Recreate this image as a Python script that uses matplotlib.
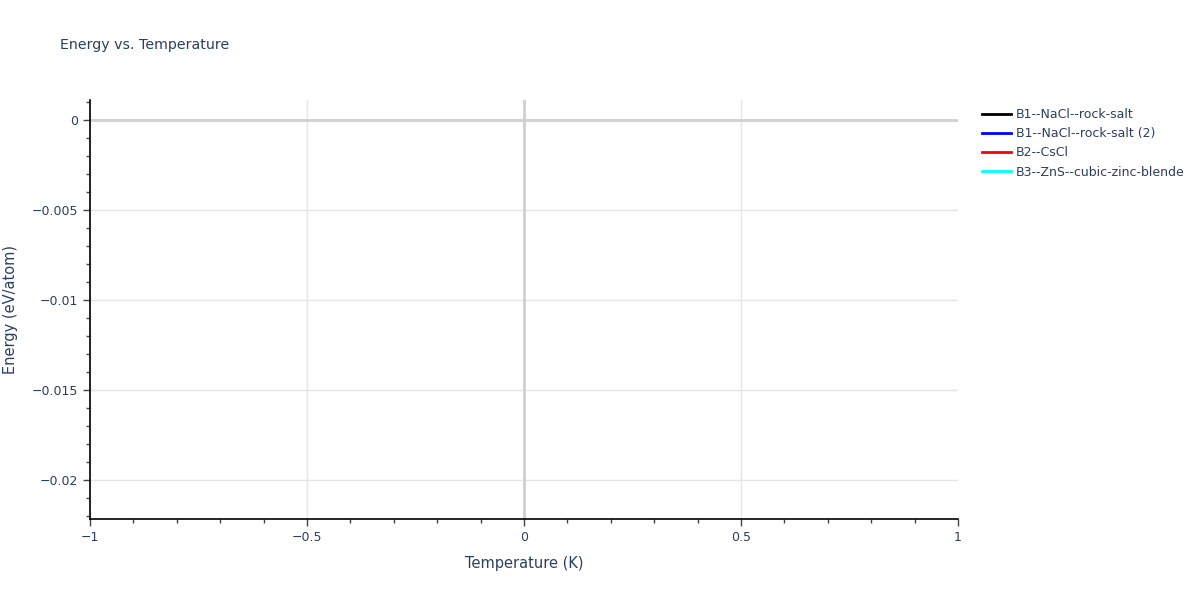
import matplotlib
matplotlib.use("Agg")
import matplotlib.pyplot as plt
from matplotlib.ticker import MultipleLocator
from matplotlib.lines import Line2D

plt.rcParams['font.family'] = ['DejaVu Sans']

# series (no points in this chart)
series_names = ["B1--NaCl--rock-salt", "B1--NaCl--rock-salt (2)", "B2--CsCl",
                "B3--ZnS--cubic-zinc-blende"]
series_colors = ["black", "blue", "red", "cyan"]
series_x = [[], [], [], []]
series_y = [[], [], [], []]

x_range = (-1, 1)
y_range = (-0.02217, 0.00111)
x_ticks = [-1, -0.5, 0, 0.5]
y_ticks = [0, -0.005, -0.01, -0.015, -0.02]

txt = "#2a3f5f"

fig = plt.figure(figsize=(12, 6), dpi=100)
ax = fig.add_axes([90/1200, 1 - 519/600, (958-90)/1200, (519-100)/600])

for xs, ys, c, n in zip(series_x, series_y, series_colors, series_names):
    ax.plot(xs, ys, color=c, lw=2, label=n)

ax.set_xlim(*x_range)
ax.set_ylim(*y_range)
ax.set_xticks(x_ticks + [1])
ax.set_yticks(y_ticks)
ax.set_xticklabels(["\u22121", "\u22120.5", "0", "0.5", "1"])
ax.set_yticklabels(["0", "\u22120.005", "\u22120.01", "\u22120.015", "\u22120.02"])
ax.xaxis.set_minor_locator(MultipleLocator(0.1))
ax.yaxis.set_minor_locator(MultipleLocator(0.001))

ax.grid(False)
for xv in x_ticks:
    ax.axvline(xv, color="#e5e5e5", lw=1, zorder=0.3)
for yv in y_ticks:
    ax.axhline(yv, color="#e5e5e5", lw=1, zorder=0.3)
ax.axhline(0, color="#d0d0d0", lw=2, zorder=0.5)
ax.axvline(0, color="#d0d0d0", lw=2, zorder=0.5)

for s in ["top", "right"]:
    ax.spines[s].set_visible(False)
for s in ["left", "bottom"]:
    ax.spines[s].set_color("black")
    ax.spines[s].set_linewidth(1.2)

ax.tick_params(which='major', direction='out', length=5, width=1, color="#444",
               labelcolor=txt, labelsize=9)
ax.tick_params(which='minor', direction='out', length=3, width=1, color="#444")

ax.set_xlabel("Temperature (K)", color=txt, fontsize=10.5, labelpad=9)
ax.set_ylabel("Energy (eV/atom)", color=txt, fontsize=10.5, labelpad=10)

fig.text(60/1200, 1 - 45/600, "Energy vs. Temperature", color=txt, fontsize=10.2,
         va='center', ha='left')

handles = [Line2D([], [], color=c, lw=2) for c in series_colors]
leg = fig.legend(handles, series_names, loc='upper left',
                 bbox_to_anchor=(982/1200, 1 - 108/600), frameon=False,
                 fontsize=9, handlelength=2.3, handletextpad=0.4,
                 labelspacing=0.5, borderaxespad=0, borderpad=0)
for t in leg.get_texts():
    t.set_color(txt)

fig.savefig("out.png", dpi=100)
